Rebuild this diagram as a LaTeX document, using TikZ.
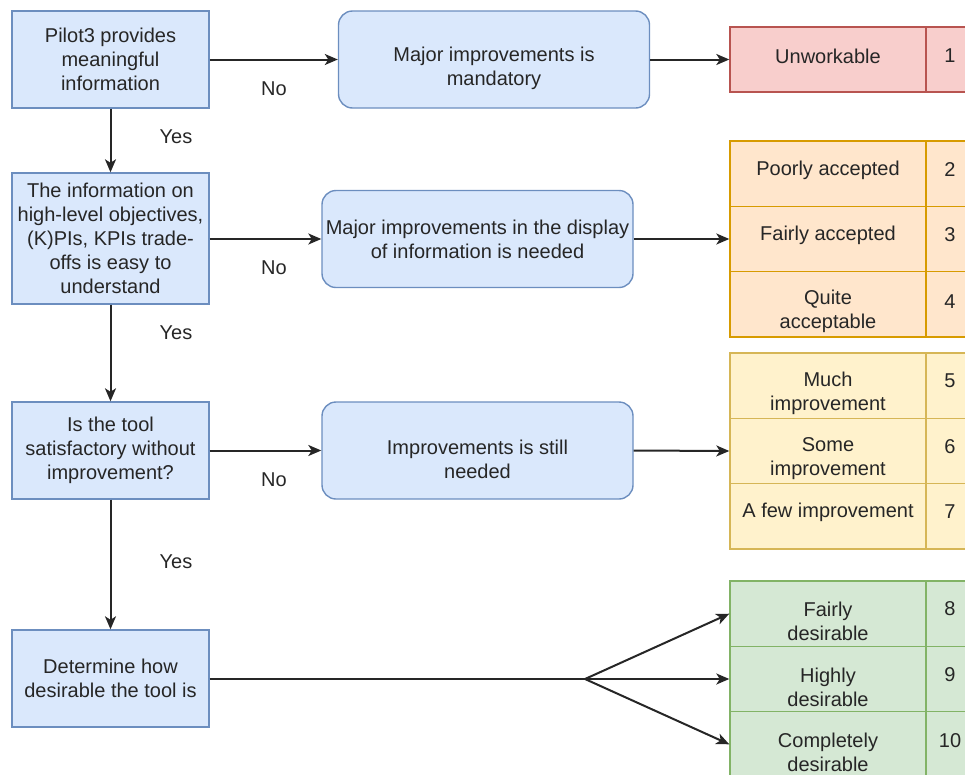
\documentclass[tikz,border=0pt]{standalone}
\usepackage{fontspec}
\setmainfont{Liberation Sans}
\usetikzlibrary{arrows.meta}
\definecolor{bluefill}{HTML}{DAE8FC}
\definecolor{bluedraw}{HTML}{6C8EBF}
\definecolor{redfill}{HTML}{F8CECC}
\definecolor{reddraw}{HTML}{B85450}
\definecolor{orangefill}{HTML}{FFE6CC}
\definecolor{orangedraw}{HTML}{D79B00}
\definecolor{yellowfill}{HTML}{FFF2CC}
\definecolor{yellowdraw}{HTML}{D6B656}
\definecolor{greenfill}{HTML}{D5E8D4}
\definecolor{greendraw}{HTML}{82B366}
\tikzset{
  every node/.style={font=\fontsize{20}{24}\selectfont, inner sep=0pt, text=black!85},
  qbox/.style={draw=bluedraw, fill=bluefill, line width=1.4pt, align=center, minimum width=197pt},
  mbox/.style={draw=bluedraw, fill=bluefill, line width=1.4pt, align=center, rounded corners=14pt, minimum width=311pt, minimum height=97pt},
  cell/.style={draw=#1draw, fill=#1fill, line width=1.4pt, minimum width=196pt},
  numcell/.style={draw=#1draw, fill=#1fill, line width=1.4pt, minimum width=50pt},
  conn/.style={line width=2pt, draw=black!85, -{Stealth[length=13pt,width=11pt,inset=3.5pt]}},
  lbl/.style={align=center}
}
\begin{document}
\begin{tikzpicture}[x=1pt,y=-1pt]
\useasboundingbox (0,0) rectangle (965,774);
\clip (0,0) rectangle (965,774);
% left question boxes
\node[qbox, minimum height=97pt] (q1) at (110.5,59.5) {Pilot3 provides\\meaningful\\information};
\node[qbox, minimum height=131pt] (q2) at (110.5,238.5) {The information on\\high-level objectives,\\(K)PIs, KPIs trade-\\offs is easy to\\understand};
\node[qbox, minimum height=97pt] (q3) at (110.5,450.5) {Is the tool\\satisfactory without\\improvement?};
\node[qbox, minimum height=97pt] (q4) at (110.5,678.5) {Determine how\\desirable the tool is};
% middle boxes
\node[mbox] (m1) at (494,59.5) {};
\node[lbl] (m1t) at (494,68) {Major improvements is\\mandatory};
\node[mbox] (m2) at (477.5,239) {Major improvements in the display\\of information is needed};
\node[mbox] (m3) at (477.5,450.5) {};
\node[lbl] (m3t) at (477.5,459) {Improvements is still\\needed};
% right tables
\node[cell=red, minimum height=65pt] (r1) at (828,59.5) {};
\node[numcell=red, minimum height=65pt] (n1) at (951,59.5) {};
\node[cell=orange, minimum height=65.3pt] (r2) at (828,173.7) {};
\node[cell=orange, minimum height=65.3pt] (r3) at (828,239) {};
\node[cell=orange, minimum height=65.3pt] (r4) at (828,304.3) {};
\node[numcell=orange, minimum height=65.3pt] (n2) at (951,173.7) {};
\node[numcell=orange, minimum height=65.3pt] (n3) at (951,239) {};
\node[numcell=orange, minimum height=65.3pt] (n4) at (951,304.3) {};
\node[cell=yellow, minimum height=65.3pt] (r5) at (828,385.7) {};
\node[cell=yellow, minimum height=65.3pt] (r6) at (828,451) {};
\node[cell=yellow, minimum height=65.3pt] (r7) at (828,516.3) {};
\node[numcell=yellow, minimum height=65.3pt] (n5) at (951,385.7) {};
\node[numcell=yellow, minimum height=65.3pt] (n6) at (951,451) {};
\node[numcell=yellow, minimum height=65.3pt] (n7) at (951,516.3) {};
\node[cell=green, minimum height=65.3pt] (r8) at (828,613.7) {};
\node[cell=green, minimum height=65.3pt] (r9) at (828,679) {};
\node[cell=green, minimum height=65.3pt] (r10) at (828,744.3) {};
\node[numcell=green, minimum height=65.3pt] (n8) at (951,613.7) {};
\node[numcell=green, minimum height=65.3pt] (n9) at (951,679) {};
\node[numcell=green, minimum height=65.3pt] (n10) at (951,744.3) {};
% table texts
\node[lbl] (t1) at (828,56) {Unworkable};
\node[lbl] (t2) at (828,170) {Poorly accepted};
\node[lbl] (t3) at (828,235) {Fairly accepted};
\node[lbl] (t4) at (828,311) {Quite\\acceptable};
\node[lbl] (t5) at (828,393) {Much\\improvement};
\node[lbl] (t6) at (828,459) {Some\\improvement};
\node[lbl] (t7) at (828,512) {A few improvement};
\node[lbl] (t8) at (828,621) {Fairly\\desirable};
\node[lbl] (t9) at (828,687) {Highly\\desirable};
\node[lbl] (t10) at (828,752) {Completely\\desirable};
\node (k1) at (950,56) {1};
\node (k2) at (950,170) {2};
\node (k3) at (950,235) {3};
\node (k4) at (950,302) {4};
\node (k5) at (950,381) {5};
\node (k6) at (950,447) {6};
\node (k7) at (950,512) {7};
\node (k8) at (950,609) {8};
\node (k9) at (950,675) {9};
\node (k10) at (950,741) {10};
% connectors
\draw[conn] (q1) -- (m1);
\draw[conn] (m1) -- (r1);
\draw[conn] (q2.east |- m2) -- (m2);
\draw[conn] (m2) -- (r3);
\draw[conn] (q3) -- (m3);
\draw[conn] (m3.east) -- (r6.west);
\draw[conn] (q1) -- (q2);
\draw[conn] (q2) -- (q3);
\draw[conn] (q3) -- (q4);
\coordinate (fork) at (585,679);
\draw[line width=2pt, draw=black!85] (q4.east |- fork) -- (fork);
\draw[conn] (fork) -- (r8.west);
\draw[conn] (fork) -- (r9.west);
\draw[conn] (fork) -- (r10.west);
% edge labels
\node (no1) at (274,89) {No};
\node (no2) at (274,268) {No};
\node (no3) at (274,480) {No};
\node (yes1) at (176,137) {Yes};
\node (yes2) at (176,333) {Yes};
\node (yes3) at (176,562) {Yes};
\end{tikzpicture}
\end{document}
